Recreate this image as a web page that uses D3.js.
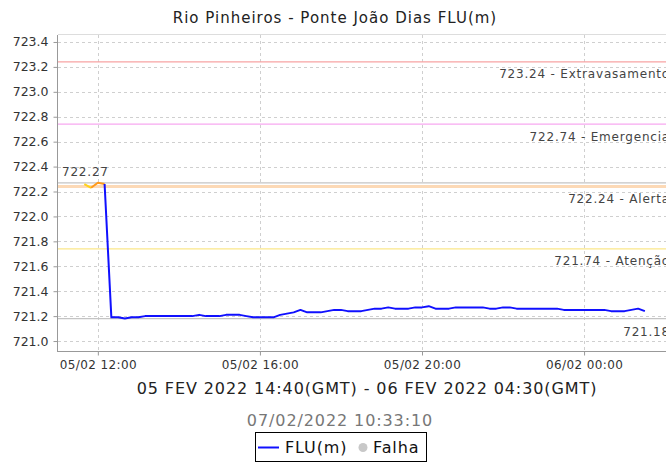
<!DOCTYPE html>
<html>
<head>
<meta charset="utf-8">
<script src="https://cdn.jsdelivr.net/npm/d3@7"></script>
<style>
  body { margin: 0; background: #fff; }
  text { font-family: "DejaVu Sans", sans-serif; }
</style>
</head>
<body>
<div id="chart"></div>
<script>
// series: one reading every 10 minutes (local time), first one at 11:40
var startTime = "2022-02-05T11:40";
var stepMinutes = 10;
var levels = [
    722.26, 722.23, 722.27, 722.26,
    721.19, 721.19, 721.18, 721.19, 721.19, 721.20, 721.20, 721.20, 721.20, 721.20,
    721.20, 721.20, 721.20, 721.21, 721.20, 721.20, 721.20, 721.21, 721.21, 721.21,
    721.20, 721.19, 721.19, 721.19, 721.19, 721.21, 721.22, 721.23, 721.25, 721.23,
    721.23, 721.23, 721.24, 721.25, 721.25, 721.24, 721.24, 721.24, 721.25, 721.26,
    721.26, 721.27, 721.26, 721.26, 721.26, 721.27, 721.27, 721.28, 721.26, 721.26,
    721.26, 721.27, 721.27, 721.27, 721.27, 721.27, 721.26, 721.26, 721.27, 721.27,
    721.26, 721.26, 721.26, 721.26, 721.26, 721.26, 721.26, 721.25, 721.25, 721.25,
    721.25, 721.25, 721.25, 721.25, 721.24, 721.24, 721.24, 721.25, 721.26, 721.24
];

// reference levels
var refValues = [723.24, 722.74, 722.24, 721.74];
var refNames = ["Extravasamento", "Emergencia", "Alerta", "Atenção"];
var maxValue = 722.27;
var minValue = 721.18;

var yTicks = [721.0, 721.2, 721.4, 721.6, 721.8, 722.0, 722.2, 722.4, 722.6, 722.8, 723.0, 723.2, 723.4];
var xTicks = ["2022-02-05T12:00", "2022-02-05T16:00", "2022-02-05T20:00", "2022-02-06T00:00"];
var xDomain = ["2022-02-05T11:01", "2022-02-06T02:25"];
var yDomain = [720.92, 723.456];

var title = "Rio Pinheiros - Ponte João Dias FLU(m)";
var period = "05 FEV 2022 14:40(GMT) - 06 FEV 2022 04:30(GMT)";
var stamp = "07/02/2022 10:33:10";

var refColors = ["#f7a3a3", "#f7a8f0", "#fcd9b6", "#fbe78a"];
var refWidths = [1.2, 1.2, 3, 1.2];

const width = 666, height = 463;
const pL = 58, pT = 35, pB = 351, pR = 682;

var parse = d3.utcParse("%Y-%m-%dT%H:%M");
var t0 = parse(startTime);
var data = levels.map((v, i) => ({ t: d3.utcMinute.offset(t0, i * stepMinutes), v: v }));

const svg = d3.select("#chart").append("svg")
    .attr("width", width).attr("height", height);

const x = d3.scaleUtc().domain(xDomain.map(parse)).range([pL, pR]);
const y = d3.scaleLinear().domain(yDomain).range([pB, pT]);

svg.append("clipPath").attr("id", "plot")
    .append("rect").attr("x", pL).attr("y", pT).attr("width", pR - pL).attr("height", pB - pT);

// grid
const grid = svg.append("g").attr("clip-path", "url(#plot)");
grid.selectAll(".hg").data(yTicks).enter().append("line")
    .attr("x1", pL).attr("x2", pR)
    .attr("y1", d => Math.round(y(d)) + 0.5).attr("y2", d => Math.round(y(d)) + 0.5)
    .style("stroke", "#cfcfcf").style("stroke-dasharray", "3,3");
grid.selectAll(".vg").data(xTicks.map(parse)).enter().append("line")
    .attr("y1", pT).attr("y2", pB)
    .attr("x1", d => Math.round(x(d)) + 0.5).attr("x2", d => Math.round(x(d)) + 0.5)
    .style("stroke", "#cfcfcf").style("stroke-dasharray", "3,3");

// reference lines
const refs = svg.append("g").attr("clip-path", "url(#plot)");
refValues.forEach(function (v, i) {
    refs.append("line")
        .attr("x1", pL).attr("x2", pR)
        .attr("y1", y(v)).attr("y2", y(v))
        .style("stroke", refColors[i]).style("stroke-width", refWidths[i]);
});
[maxValue, minValue].forEach(function (v) {
    refs.append("line")
        .attr("x1", pL).attr("x2", pR)
        .attr("y1", y(v)).attr("y2", y(v))
        .style("stroke", "#c4c4c4").style("stroke-width", 1.2);
});

// series, coloured by the level the segment ends in
function levelColor(v) {
    if (v >= refValues[2]) return "#ff9a1a";
    if (v >= refValues[3]) return "#ffd21a";
    return "#1010ff";
}
const series = svg.append("g").attr("clip-path", "url(#plot)");
const line = d3.line().x(d => x(d.t)).y(d => y(d.v));
var runs = [];
for (var i = 1; i < data.length; i++) {
    var c = levelColor(data[i].v);
    if (runs.length && runs[runs.length - 1].color === c) runs[runs.length - 1].pts.push(data[i]);
    else runs.push({ color: c, pts: [data[i - 1], data[i]] });
}
series.selectAll("path").data(runs).enter().append("path")
    .attr("d", d => line(d.pts))
    .style("fill", "none")
    .style("stroke", d => d.color)
    .style("stroke-width", 2)
    .style("stroke-linejoin", "round");

// reference labels
const labels = svg.append("g").style("font-size", "12px").style("fill", "#444").style("letter-spacing", "0.8px");
refValues.forEach(function (v, i) {
    labels.append("text")
        .attr("x", 670).attr("y", y(v) + 16.5)
        .attr("text-anchor", "end")
        .text(v.toFixed(2) + " - " + refNames[i]);
});
labels.append("text").attr("x", 670).attr("y", y(minValue) + 17.5)
    .attr("text-anchor", "end").text(minValue.toFixed(2));
labels.append("text").attr("x", 62).attr("y", y(maxValue) - 7)
    .text(maxValue.toFixed(2));

// frame
svg.append("line").attr("x1", pL - 0.5).attr("x2", pL - 0.5).attr("y1", pT).attr("y2", pB + 1)
    .style("stroke", "#999");
svg.append("line").attr("x1", pL).attr("x2", width).attr("y1", pB + 0.5).attr("y2", pB + 0.5)
    .style("stroke", "#999");
svg.append("line").attr("x1", pL).attr("x2", width).attr("y1", pT - 0.5).attr("y2", pT - 0.5)
    .style("stroke", "#ddd");

// axes
const yAxis = svg.append("g").attr("transform", `translate(${pL - 0.5},0)`)
    .call(d3.axisLeft(y).tickValues(yTicks).tickFormat(d3.format(".1f")).tickSize(4).tickPadding(5));
yAxis.select(".domain").remove();
yAxis.selectAll("line").style("stroke", "#999");
yAxis.selectAll("text").style("font-size", "12.5px").style("fill", "#333").style("font-family", "DejaVu Sans");

const fmt = d3.utcFormat("%d/%m %H:%M");
const xAxis = svg.append("g").attr("transform", `translate(0,${pB + 0.5})`)
    .call(d3.axisBottom(x).tickValues(xTicks.map(parse)).tickFormat(fmt).tickSize(4).tickPadding(5));
xAxis.select(".domain").remove();
xAxis.selectAll("line").style("stroke", "#999");
xAxis.selectAll("text").style("font-size", "12px").style("fill", "#333").style("font-family", "DejaVu Sans")
    .style("letter-spacing", "0.4px");

// titles
svg.append("text").attr("x", 335).attr("y", 23).attr("text-anchor", "middle")
    .style("font-size", "15px").style("fill", "#222").style("letter-spacing", "1px").text(title);
svg.append("text").attr("x", 367).attr("y", 394).attr("text-anchor", "middle")
    .style("font-size", "16px").style("fill", "#222").style("letter-spacing", "0.9px").text(period);
svg.append("text").attr("x", 340).attr("y", 426).attr("text-anchor", "middle")
    .style("font-size", "16px").style("fill", "#777").style("letter-spacing", "0.9px").text(stamp);

// legend
const lg = svg.append("g").style("font-size", "16px").style("fill", "#111").style("letter-spacing", "0.9px");
lg.append("rect").attr("x", 255.5).attr("y", 432.5).attr("width", 171).attr("height", 29)
    .style("fill", "#fff").style("stroke", "#000");
lg.append("line").attr("x1", 258).attr("x2", 279).attr("y1", 447.5).attr("y2", 447.5)
    .style("stroke", "#1010ff").style("stroke-width", 2);
lg.append("text").attr("x", 285).attr("y", 453).text("FLU(m)");
lg.append("circle").attr("cx", 363).attr("cy", 447.5).attr("r", 4.5).style("fill", "#c8c8c8");
lg.append("text").attr("x", 373).attr("y", 453).text("Falha");
</script>
</body>
</html>
